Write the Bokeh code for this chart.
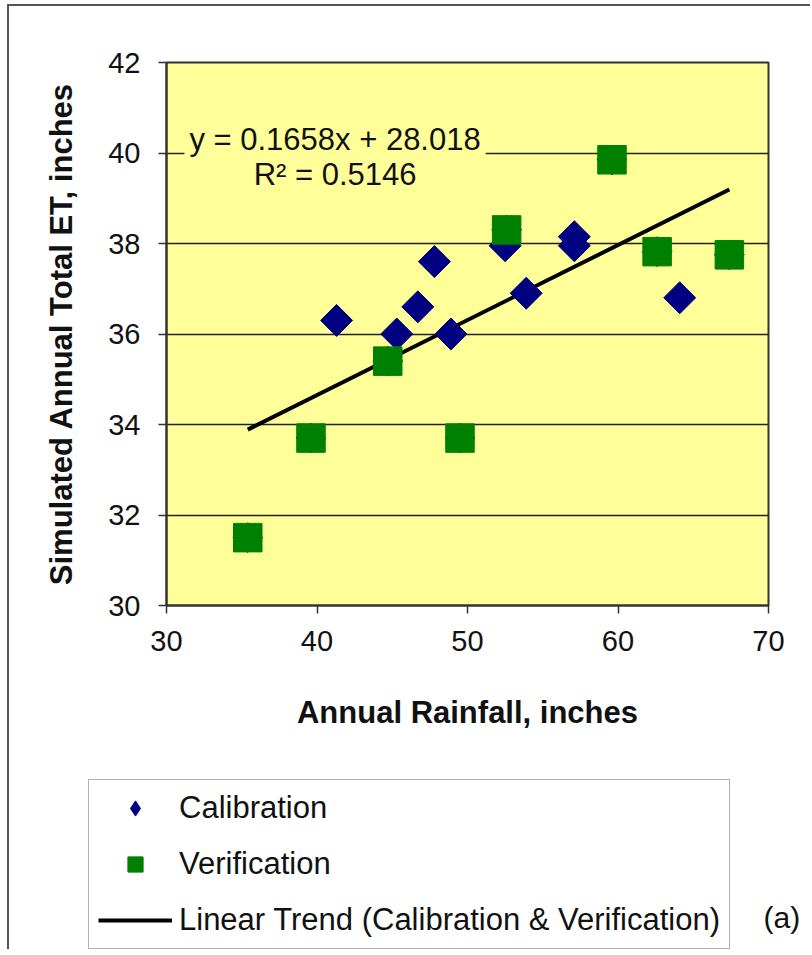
import numpy as np
from bokeh.plotting import figure
from bokeh.models import Range1d, FixedTicker, Label, Legend, LegendItem
from bokeh.embed import file_html
from bokeh.resources import INLINE

# ---- data ----
cal_rain = [41.3, 45.3, 46.7, 47.8, 48.9, 52.5, 53.9, 57.1, 57.1, 64.1]
cal_et = [36.3, 36.0, 36.6, 37.6, 36.0, 37.95, 36.9, 38.15, 37.95, 36.8]
ver_rain = [35.4, 39.6, 44.7, 49.5, 52.6, 59.6, 62.6, 67.4]
ver_et = [31.5, 33.7, 35.4, 33.7, 38.3, 39.85, 37.82, 37.75]
slope = 0.1658
intercept = 28.018
r_squared = 0.5146
x_ticks = [30, 40, 50, 60, 70]
y_ticks = [30, 32, 34, 36, 38, 40, 42]
legend_labels = ["Calibration", "Verification", "Linear Trend (Calibration & Verification)"]
panel_tag = "(a)"

FONT = "Liberation Sans"
NAVY = "#000080"
GREEN = "#008000"
YELLOW = "#FFFF99"
TXT = "#111111"

p = figure(width=803, height=745, output_backend="svg", toolbar_location=None,
           x_range=Range1d(30, 70), y_range=Range1d(30, 42),
           min_border_left=157, min_border_right=44, min_border_top=56, min_border_bottom=146)
p.styles = {"margin-left": "7px", "margin-top": "4px",
            "border-top": "2px solid #555", "border-left": "2px solid #555"}
p.background_fill_color = YELLOW
p.border_fill_color = "white"
p.outline_line_color = "#333333"
p.outline_line_width = 2

p.xgrid.visible = False
p.ygrid.grid_line_color = "#222222"
p.ygrid.grid_line_width = 1.3

p.xaxis.ticker = FixedTicker(ticks=x_ticks)
p.yaxis.ticker = FixedTicker(ticks=y_ticks)
for ax in (p.xaxis[0], p.yaxis[0]):
    ax.major_label_text_font = FONT
    ax.major_label_text_font_size = "29px"
    ax.major_label_text_color = TXT
    ax.axis_label_text_font = FONT
    ax.axis_label_text_font_size = "31px"
    ax.axis_label_text_font_style = "bold"
    ax.axis_label_text_color = TXT
    ax.minor_tick_line_color = None
    ax.major_tick_in = 0
    ax.major_tick_out = 8
    ax.major_tick_line_color = "#333333"
    ax.major_tick_line_width = 1.5
    ax.axis_line_color = "#333333"
    ax.axis_line_width = 2

p.xaxis.axis_label = "Annual Rainfall, inches"
p.yaxis.axis_label = "Simulated Annual Total ET, inches"
p.xaxis.major_label_standoff = 17
p.xaxis.axis_label_standoff = 41
p.yaxis.major_label_standoff = 18
p.yaxis.axis_label_standoff = 26

# trend line from regression equation over the data span
all_x = np.array(cal_rain + ver_rain)
tx = np.array([all_x.min(), all_x.max()])
ty = slope * tx + intercept
p.line(tx, ty, line_color="black", line_width=4)

# diamonds hidden under verification squares
p.scatter(ver_rain, ver_et, marker="square", angle=np.pi / 4, size=21,
          fill_color=NAVY, line_color=NAVY)
p.scatter(cal_rain, cal_et, marker="square", angle=np.pi / 4, size=22.6,
          fill_color=NAVY, line_color=NAVY)
p.scatter(ver_rain, ver_et, marker="square", size=28.5,
          fill_color=GREEN, line_color=GREEN)

eq1 = Label(x=41.2, y=40.29, text=f"y = {slope}x + {intercept}", text_align="center",
            text_baseline="middle", text_font=FONT, text_font_size="31px",
            text_color=TXT, background_fill_color=YELLOW, padding=5)
eq2 = Label(x=41.2, y=39.52, text=f"R\u00b2 = {r_squared}", text_align="center",
            text_baseline="middle", text_font=FONT, text_font_size="31px",
            text_color=TXT)
p.add_layout(eq1)
p.add_layout(eq2)

# ---- legend panel below the chart (separate root, no frame alignment) ----
q = figure(width=803, height=200, output_backend="svg", toolbar_location=None,
           x_axis_type=None, y_axis_type=None,
           x_range=Range1d(0, 1), y_range=Range1d(0, 1),
           min_border_left=0, min_border_right=0, min_border_top=0, min_border_bottom=0)
q.styles = {"margin-left": "7px", "border-left": "2px solid #555"}
q.outline_line_color = None
q.grid.visible = False
q.background_fill_color = "white"
q.border_fill_color = "white"
# legend glyph renderers (their data lie outside this panel's range)
g_cal = q.scatter(cal_rain, cal_et, marker="diamond", size=20, fill_color=NAVY, line_color=NAVY)
g_ver = q.scatter(ver_rain, ver_et, marker="square", size=20, fill_color=GREEN, line_color=GREEN)
g_line = q.line(tx, ty, line_color="black", line_width=4)

legend = Legend(items=[LegendItem(label=legend_labels[0], renderers=[g_cal]),
                       LegendItem(label=legend_labels[1], renderers=[g_ver]),
                       LegendItem(label=legend_labels[2], renderers=[g_line])],
                location=(79, 0), orientation="vertical")
legend.label_text_font = FONT
legend.label_text_font_size = "31px"
legend.label_text_color = TXT
legend.label_height = 34
legend.glyph_height = 38
legend.glyph_width = 74
legend.label_standoff = 7
legend.spacing = 18
legend.padding = 9
legend.margin = 0
legend.border_line_color = "#666666"
legend.border_line_width = 1
legend.background_fill_color = "white"
legend.background_fill_alpha = 1
q.add_layout(legend, "center")

tag = Label(x=754, y=32, x_units="screen", y_units="screen", text=panel_tag,
            text_align="left", text_baseline="middle",
            text_font=FONT, text_font_size="30px", text_color=TXT)
q.add_layout(tag)

open("out.html", "w").write(file_html([p, q], INLINE))
